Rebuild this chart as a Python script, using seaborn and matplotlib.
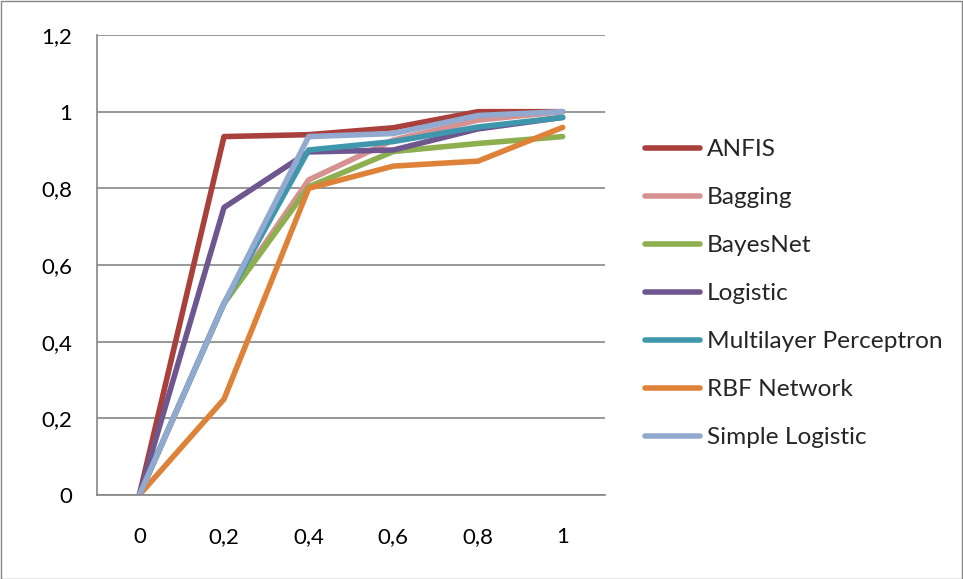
import matplotlib
matplotlib.use("Agg")
import matplotlib.pyplot as plt
import seaborn as sns
import pandas as pd
from matplotlib.patches import Rectangle
from matplotlib.ticker import FixedLocator

x_labels = ["0", "0,2", "0,4", "0,6", "0,8", "1"]
series_names = ["ANFIS", "Bagging", "BayesNet", "Logistic",
                "Multilayer Perceptron", "RBF Network", "Simple Logistic"]
anfis = [0, 0.935, 0.94, 0.958, 1.0, 1.0]
bagging = [0, 0.5, 0.822, 0.926, 0.978, 1.0]
bayesnet = [0, 0.5, 0.804, 0.896, 0.917, 0.935]
logistic = [0, 0.75, 0.895, 0.90, 0.955, 0.985]
mlp = [0, 0.5, 0.90, 0.922, 0.96, 0.985]
rbf = [0, 0.25, 0.80, 0.858, 0.871, 0.959]
simple_logistic = [0, 0.5, 0.935, 0.943, 0.99, 1.0]
y_ticks = [0, 0.2, 0.4, 0.6, 0.8, 1.0, 1.2]
y_tick_labels = ["0", "0,2", "0,4", "0,6", "0,8", "1", "1,2"]

colors = ["#A9403C", "#D59290", "#8EAF4F", "#6E568E", "#3F97AD", "#DE823A", "#92A9D0"]

values = [anfis, bagging, bayesnet, logistic, mlp, rbf, simple_logistic]
rows = []
for name, vals in zip(series_names, values):
    for xl, v in zip(x_labels, vals):
        rows.append({"x": xl, "value": v, "series": name})
df = pd.DataFrame(rows)

sns.set_style("white")
plt.rcParams["font.family"] = ["Lato", "DejaVu Sans"]

fig = plt.figure(figsize=(9.63, 5.79), dpi=100)
ax = fig.add_axes([97 / 963, 1 - 495 / 579, (605 - 97) / 963, (495 - 35) / 579])

lw = 4.0
sns.lineplot(data=df, x="x", y="value", hue="series", hue_order=series_names,
             palette=colors, sort=False, linewidth=lw, ax=ax, legend=True)

gray = "#868686"
ax.set_xlim(-0.5, 5.5)
ax.set_ylim(0, 1.2)
ax.set_yticks(y_ticks)
ax.set_yticklabels(y_tick_labels)
ax.set_xticks(range(len(x_labels)))
ax.set_xticklabels(x_labels)
ax.xaxis.set_minor_locator(FixedLocator([i - 0.5 for i in range(len(x_labels) + 1)]))
ax.tick_params(axis="x", which="major", length=0, pad=23, labelsize=16, colors="black")
ax.tick_params(axis="x", which="minor", length=6, width=1.2, color=gray, direction="out")
ax.tick_params(axis="y", which="major", length=7, width=1.2, color=gray, direction="out",
               pad=11, labelsize=16, labelcolor="black")
ax.yaxis.grid(True, color=gray, linewidth=1.2)
ax.xaxis.grid(False)
ax.set_axisbelow(True)
for s in ["top", "right"]:
    ax.spines[s].set_visible(False)
for s in ["left", "bottom"]:
    ax.spines[s].set_color(gray)
    ax.spines[s].set_linewidth(1.2)
ax.set_xlabel("")
ax.set_ylabel("")

handles, labels = ax.get_legend_handles_labels()
leg = ax.legend(handles, labels, loc="center left",
                bbox_to_anchor=((645 - 97) / 508, (495 - 293.5) / 460),
                frameon=False, fontsize=17.6, handlelength=2.25, handletextpad=0.28,
                labelspacing=1.1, borderaxespad=0, borderpad=0)
for h in leg.get_lines():
    h.set_linewidth(lw)

fig.patches.append(Rectangle((0.5 / 963, 0.5 / 579), 1 - 1.5 / 963, 1 - 1.5 / 579,
                             transform=fig.transFigure, fill=False,
                             edgecolor=gray, linewidth=1.0))

fig.savefig("out.png", dpi=100, facecolor="white")
